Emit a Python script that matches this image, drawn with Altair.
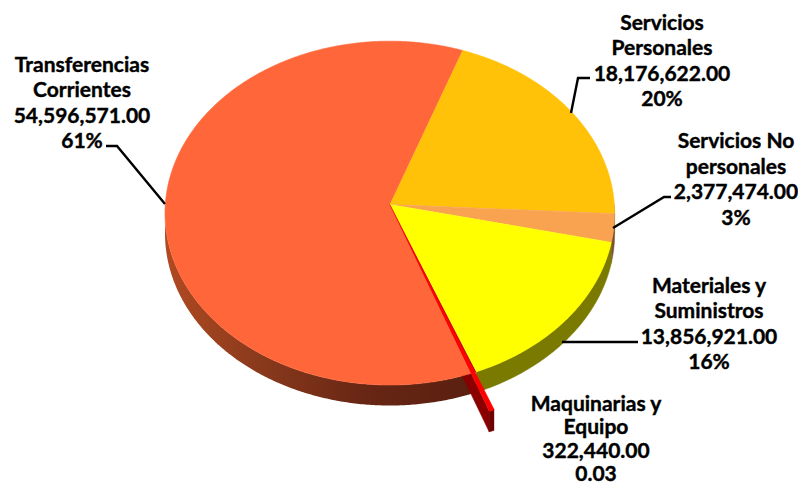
import numpy as np
import pandas as pd
import altair as alt

# --- data
categories = ["Servicios Personales", "Servicios No personales", "Materiales y Suministros",
              "Maquinarias y Equipo", "Transferencias Corrientes"]
values = [18176622.0, 2377474.0, 13856921.0, 322440.0, 54596571.0]
top_colors = ["#FFC208", "#F9A350", "#FFFF00", "#FF0000", "#FF673B"]
side_colors = ["#806000", "#7D5128", "#7A7A00", "#8A0000", None]
label_lines = [
    ["Servicios", "Personales", "18,176,622.00", "20%"],
    ["Servicios No", "personales", "2,377,474.00", "3%"],
    ["Materiales y", "Suministros", "13,856,921.00", "16%"],
    ["Maquinarias y", "Equipo", "322,440.00", "0.03"],
    ["Transferencias", "Corrientes", "54,596,571.00", "61%"],
]

# --- layout (image pixels)
CHART_W, CHART_H = 790, 479
CX, CY, RX, RY, PERSP, DEPTH = 389.8, 204.5, 224.5, 171.5, 0.05, 20.5
START = 19.8
SHIFT = (18.0, 38.0)
label_x = [662, 736, 709, 596, 82]
label_y = [24, 142, 287, 405, 66]
label_step = [25.3, 25.6, 25.3, 23.4, 25.3]
leaders = [
    [(590, 78), (578, 78), (571, 113)],
    [(671, 197), (664, 197), (613, 228)],
    [(638, 342), (562, 342)],
    [(106, 146), (117, 146), (165, 204)],
]

xs = alt.Scale(domain=[8, 8 + CHART_W], range=[0, CHART_W], nice=False, zero=False)
ys = alt.Scale(domain=[8, 8 + CHART_H], range=[0, CHART_H], nice=False, zero=False)


def rim(t, cx=CX, cy=CY):
    r = np.radians(t)
    w = 1 + PERSP * np.cos(r)
    return cx + RX * np.sin(r) / w, cy - RY * np.cos(r) / w


def arc_pts(a, b, n=None, cx=CX, cy=CY):
    n = n or max(3, int(abs(b - a)) * 2)
    x, y = rim(np.linspace(a, b, n), cx, cy)
    return list(zip(x, y))


def poly(pts, fill):
    df = pd.DataFrame(pts, columns=["x", "y"])
    df["i"] = range(len(df))
    stroke = fill if isinstance(fill, str) else None
    kw = dict(filled=True, fill=fill, strokeWidth=0.6, interpolate="linear", point=False)
    kw["stroke"] = stroke if stroke else "transparent"
    return alt.Chart(df).mark_line(**kw).encode(
        x=alt.X("x:Q", scale=xs, axis=None),
        y=alt.Y("y:Q", scale=ys, axis=None),
        order=alt.Order("i:Q"),
    )


def wall(a, b, fill, cx=CX, cy=CY):
    upper = arc_pts(a, b, cx=cx, cy=cy)
    lower = [(x, y + DEPTH) for x, y in reversed(upper)]
    return poly(upper + lower, fill)


share = np.array(values) / sum(values) * 360
edges = START + np.concatenate([[0], np.cumsum(share)])
spans = list(zip(edges[:-1], edges[1:]))

sides, tops = [], []
for k in range(3):
    a, b = spans[k]
    a = max(a, 90)
    if b > a:
        sides.append(wall(a, b, side_colors[k]))
a, b = spans[4]
trans_side = alt.Gradient(
    gradient="linear", x1=0, x2=1, y1=0, y2=0,
    stops=[alt.GradientStop(color="#B04A22", offset=0),
           alt.GradientStop(color="#8A3A1C", offset=0.3),
           alt.GradientStop(color="#682614", offset=0.65),
           alt.GradientStop(color="#5A2010", offset=1)],
)
sides.append(wall(a, 270, trans_side))

# exploded slice: it reaches out along its own radius from the pie's centre
a, b = spans[3]
tx, ty = CX + SHIFT[0], CY + SHIFT[1]
r2 = rim(b, tx, ty)
exp_side = [
    poly([(CX, CY), r2, (r2[0], r2[1] + DEPTH), (CX, CY + DEPTH)], side_colors[3]),
    wall(a, b, "#6E0000", tx, ty),
]
gap = poly([(CX, CY)] + arc_pts(a, b, 4), "#A01010")

for k in [0, 1, 2, 4]:
    a0, b0 = spans[k]
    tops.append(poly([(CX, CY)] + arc_pts(a0, b0), top_colors[k]))
exp_top = poly([(CX, CY)] + arc_pts(a, b, 4, tx, ty), top_colors[3])

leader_layers = []
for pts in leaders:
    df = pd.DataFrame(pts, columns=["x", "y"])
    df["i"] = range(len(df))
    leader_layers.append(
        alt.Chart(df).mark_line(color="#000000", strokeWidth=2.4).encode(
            x=alt.X("x:Q", scale=xs, axis=None),
            y=alt.Y("y:Q", scale=ys, axis=None),
            order=alt.Order("i:Q"),
        )
    )

rows = []
for lines, lx, ly, st in zip(label_lines, label_x, label_y, label_step):
    for j, txt in enumerate(lines):
        rows.append({"x": lx, "y": ly + j * st, "t": txt})
labels = alt.Chart(pd.DataFrame(rows)).mark_text(
    font="Lato", fontSize=21, fontWeight="bold", color="#000000", align="center", baseline="middle",
    stroke="#000000", strokeWidth=0.4,
).encode(
    x=alt.X("x:Q", scale=xs, axis=None),
    y=alt.Y("y:Q", scale=ys, axis=None),
    text="t:N",
)

chart = alt.layer(*(sides + exp_side + [gap] + tops + [exp_top] + leader_layers + [labels])).properties(
    width=CHART_W, height=CHART_H, padding=0, autosize=alt.AutoSizeParams(type="none"),
    background="#FFFFFF",
).configure_view(stroke=None)

chart.save("out.html", embed_options={"renderer": "svg", "actions": False})
